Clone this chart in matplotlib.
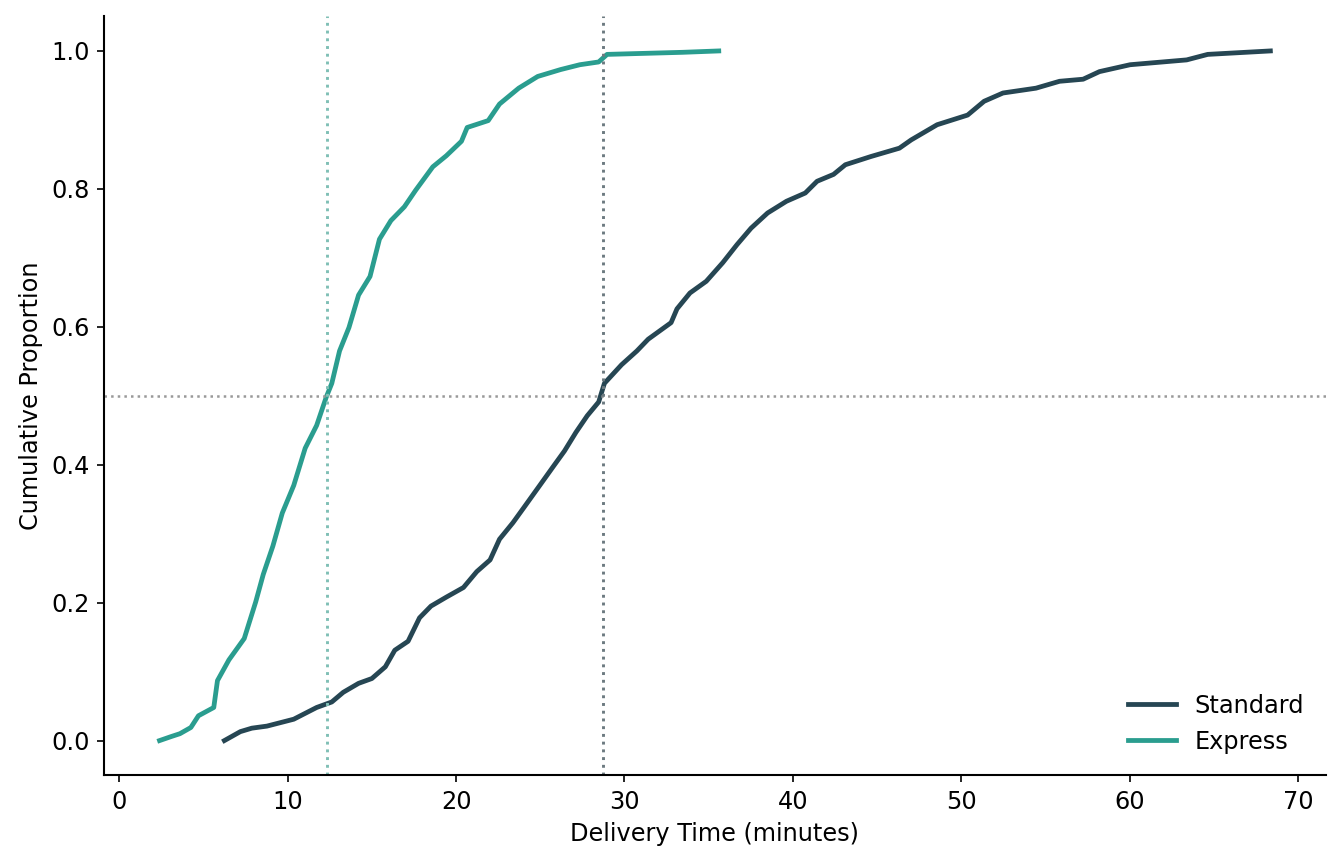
import numpy as np
import matplotlib.pyplot as plt

plt.rcParams.update({'font.size': 11.5, 'axes.linewidth': 1.0})

# knots (minutes, proportion)
standard_x = [6.24, 7.19, 7.87, 8.77, 10.36, 11.72, 12.62, 13.30, 14.21, 15.00,
              15.80, 16.36, 17.15, 17.83, 18.51, 19.42, 20.44, 21.23, 22.02, 22.58,
              23.38, 24.06, 24.97, 25.76, 26.44, 27.12, 27.79, 28.47, 28.81, 29.83,
              30.74, 31.41, 32.77, 33.12, 33.89, 34.86, 35.84, 36.68, 37.52, 38.50,
              39.62, 40.74, 41.44, 42.42, 43.12, 44.65, 46.33, 47.03, 48.57, 50.38,
              51.36, 52.48, 54.44, 55.84, 57.24, 58.21, 60.03, 63.39, 64.64, 68.36]
standard_y = [0.000, 0.013, 0.018, 0.021, 0.031, 0.048, 0.056, 0.070, 0.083, 0.090,
              0.107, 0.131, 0.144, 0.178, 0.195, 0.208, 0.222, 0.245, 0.262, 0.292,
              0.316, 0.339, 0.370, 0.397, 0.420, 0.447, 0.471, 0.491, 0.518, 0.545,
              0.565, 0.582, 0.606, 0.626, 0.649, 0.666, 0.693, 0.719, 0.743, 0.765,
              0.782, 0.794, 0.811, 0.821, 0.835, 0.847, 0.859, 0.871, 0.893, 0.907,
              0.927, 0.939, 0.946, 0.956, 0.959, 0.970, 0.980, 0.987, 0.995, 1.000]

express_x = [2.39, 3.10, 3.60, 4.25, 4.70, 5.61, 5.83, 6.51, 7.42, 8.10, 8.55, 9.12,
             9.68, 10.36, 11.04, 11.72, 12.29, 12.62, 13.08, 13.64, 14.21, 14.89,
             15.45, 16.13, 16.93, 17.60, 18.62, 19.42, 20.32, 20.66, 21.91, 22.58,
             23.72, 24.85, 26.21, 27.35, 28.47, 28.97, 33.45, 35.60]
express_y = [0.000, 0.006, 0.010, 0.019, 0.036, 0.048, 0.087, 0.117, 0.148, 0.201,
             0.241, 0.282, 0.330, 0.370, 0.424, 0.457, 0.498, 0.518, 0.565, 0.599,
             0.646, 0.673, 0.727, 0.754, 0.774, 0.798, 0.832, 0.848, 0.869, 0.889,
             0.899, 0.923, 0.946, 0.963, 0.973, 0.980, 0.984, 0.995, 0.998, 1.000]

median_standard = 28.7
median_express = 12.35

c_std = '#264653'
c_exp = '#2a9d8f'

fig, ax = plt.subplots(figsize=(1342/150, 866/150), dpi=150)
fig.subplots_adjust(left=0.0775, right=0.988, top=0.981, bottom=0.105)

ax.plot(standard_x, standard_y, color=c_std, lw=2.3, label='Standard')
ax.plot(express_x, express_y, color=c_exp, lw=2.3, label='Express')

ax.axhline(0.5, color='#999999', ls=':', lw=1.2)
ax.axvline(median_standard, color='#6c7a80', ls=':', lw=1.4)
ax.axvline(median_express, color='#7fbfb5', ls=':', lw=1.4)

ax.set_xlabel('Delivery Time (minutes)')
ax.set_ylabel('Cumulative Proportion')
ax.spines['top'].set_visible(False)
ax.spines['right'].set_visible(False)
ax.legend(loc='lower right', frameon=False)

plt.savefig('out.png', dpi=150)
